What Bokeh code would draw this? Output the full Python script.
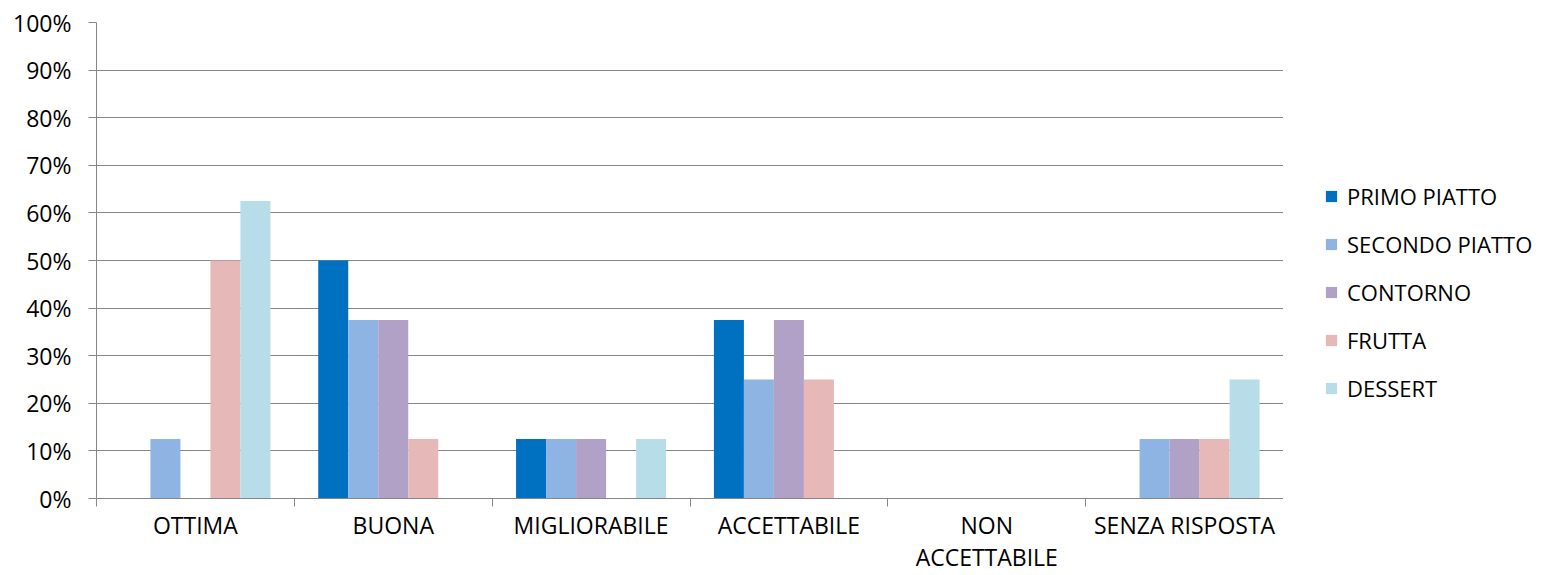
from bokeh.plotting import figure
from bokeh.layouts import row
from bokeh.models import (ColumnDataSource, Range1d, FixedTicker, NumeralTickFormatter,
                          Legend, LegendItem)
from bokeh.transform import dodge
from bokeh.embed import file_html
from bokeh.resources import INLINE

categories = ["OTTIMA", "BUONA", "MIGLIORABILE", "ACCETTABILE", "NON\nACCETTABILE", "SENZA RISPOSTA"]
series = ["PRIMO PIATTO", "SECONDO PIATTO", "CONTORNO", "FRUTTA", "DESSERT"]
primo = [0.0, 0.50, 0.125, 0.375, 0.0, 0.0]
secondo = [0.125, 0.375, 0.125, 0.25, 0.0, 0.125]
contorno = [0.0, 0.375, 0.125, 0.375, 0.0, 0.125]
frutta = [0.50, 0.125, 0.0, 0.25, 0.0, 0.125]
dessert = [0.625, 0.0, 0.125, 0.0, 0.0, 0.25]
colors = ["#0070C0", "#8EB4E3", "#B2A1C7", "#E6B9B8", "#B7DEE8"]

FONT = "Open Sans"
GRID = "#868686"

src = ColumnDataSource(dict(
    idx=[i + 0.5 for i in range(len(categories))],
    primo=primo, secondo=secondo, contorno=contorno, frutta=frutta, dessert=dessert,
))
keys = ["primo", "secondo", "contorno", "frutta", "dessert"]

p = figure(width=1283, height=575, output_backend="svg", toolbar_location=None,
           x_range=Range1d(0, len(categories)), y_range=Range1d(0, 1),
           min_border_left=96, min_border_right=0, min_border_top=22, min_border_bottom=77)
p.outline_line_color = None
p.background_fill_color = "white"
p.border_fill_color = "white"

w = 30 / 197.8
for j, k in enumerate(keys):
    p.vbar(x=dodge("idx", (j - 2) * w, range=p.x_range), top=k, width=w, bottom=0,
           source=src, fill_color=colors[j], line_color=None)

# axes
p.xgrid.grid_line_color = None
p.ygrid.grid_line_color = GRID
p.ygrid.grid_line_width = 1
p.ygrid.ticker = FixedTicker(ticks=[i / 10 for i in range(11)])

ya = p.yaxis[0]
ya.ticker = FixedTicker(ticks=[i / 10 for i in range(11)])
ya.formatter = NumeralTickFormatter(format="0%")
ya.axis_line_color = GRID
ya.major_tick_line_color = GRID
ya.major_tick_out = 8
ya.major_tick_in = 0
ya.minor_tick_line_color = None
ya.major_label_text_font = FONT
ya.major_label_text_font_size = "23px"
ya.major_label_text_color = "#000000"
ya.major_label_standoff = 17

xa = p.xaxis[0]
xa.ticker = FixedTicker(ticks=[i + 0.5 for i in range(len(categories))],
                        minor_ticks=list(range(len(categories) + 1)))
xa.major_label_overrides = {i + 0.5: c for i, c in enumerate(categories)}
xa.axis_line_color = GRID
xa.major_tick_line_color = None
xa.minor_tick_line_color = GRID
xa.minor_tick_out = 8
xa.minor_tick_in = 0
xa.major_label_text_font = FONT
xa.major_label_text_font_size = "23px"
xa.major_label_text_line_height = 1.0
xa.major_label_text_color = "#000000"
xa.major_label_standoff = 2

# legend panel
lg = figure(width=258, height=575, output_backend="svg", toolbar_location=None,
            x_range=Range1d(0, 1), y_range=Range1d(0, 1),
            x_axis_type=None, y_axis_type=None,
            min_border_left=0, min_border_right=0, min_border_top=0, min_border_bottom=0)
lg.outline_line_color = None
lg.xgrid.visible = False
lg.ygrid.visible = False
swatches = [lg.vbar(x=[5], top=[5], bottom=[4], width=0.1, fill_color=c, line_color=None)
            for c in colors]
legend = Legend(items=[LegendItem(label=s, renderers=[swatches[j]]) for j, s in enumerate(series)],
                location=(41, 95), orientation="vertical",
                glyph_width=14, glyph_height=14, label_standoff=9,
                label_height=20, spacing=18, padding=0, margin=0,
                border_line_color=None, background_fill_alpha=0,
                label_text_font=FONT, label_text_font_size="22px", label_text_color="#000000")
lg.add_layout(legend, "center")

layout = row(p, lg, spacing=0)
open("out.html", "w").write(file_html(layout, INLINE))
